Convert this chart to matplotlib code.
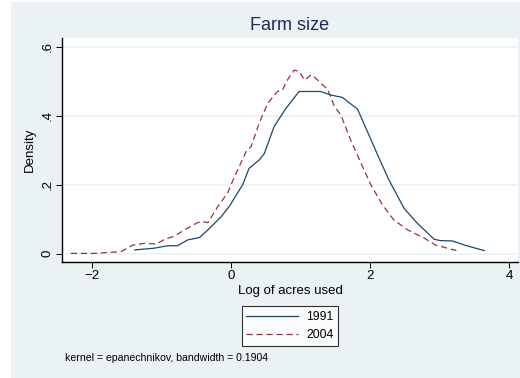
import matplotlib
matplotlib.use("Agg")
import matplotlib.pyplot as plt
from matplotlib.patches import Rectangle

plt.rcParams["font.family"] = ["Liberation Sans", "DejaVu Sans"]

# kernel density estimates
x_1991 = [-1.38, -1.10, -0.91, -0.77, -0.62, -0.45, -0.33, -0.14, -0.02, 0.17,
          0.26, 0.41, 0.48, 0.62, 0.79, 0.98, 1.29, 1.43, 1.60, 1.82,
          2.10, 2.27, 2.49, 2.68, 2.92, 3.01, 3.18, 3.39, 3.64]
d_1991 = [0.011, 0.016, 0.023, 0.023, 0.040, 0.047, 0.069, 0.107, 0.138, 0.200,
          0.247, 0.272, 0.290, 0.368, 0.421, 0.470, 0.470, 0.460, 0.453, 0.419,
          0.290, 0.214, 0.131, 0.088, 0.042, 0.038, 0.037, 0.023, 0.009]

x_2004 = [-2.30, -1.96, -1.58, -1.41, -1.24, -1.07, -0.95, -0.81, -0.65, -0.48,
          -0.41, -0.33, -0.19, -0.05, 0.05, 0.22, 0.29, 0.41, 0.53, 0.67,
          0.74, 0.81, 0.91, 0.98, 1.06, 1.15, 1.22, 1.32, 1.39, 1.49,
          1.58, 1.72, 1.87, 2.01, 2.18, 2.34, 2.54, 2.78, 2.94, 3.11, 3.24]
d_2004 = [0.001, 0.001, 0.006, 0.025, 0.030, 0.028, 0.042, 0.051, 0.071, 0.090,
          0.093, 0.090, 0.136, 0.175, 0.222, 0.296, 0.310, 0.380, 0.436, 0.470,
          0.474, 0.503, 0.532, 0.528, 0.503, 0.518, 0.508, 0.489, 0.476, 0.426,
          0.402, 0.330, 0.262, 0.200, 0.141, 0.098, 0.069, 0.045, 0.025, 0.016, 0.009]

xticks = [-2, 0, 2, 4]
yticks = [0, 0.2, 0.4, 0.6]
ytick_labels = ["0", ".2", ".4", ".6"]

W, H = 520, 378
bg = "#eaf2f3"
navy = "#1a476f"
red = "#90353b"

fig = plt.figure(figsize=(W / 100, H / 100), dpi=100, facecolor="white")
fig.patches.append(Rectangle((11 / W, 0), 1 - 11 / W, 1 - 2 / H,
                             transform=fig.transFigure, facecolor=bg,
                             edgecolor="none", zorder=-10))

ax = fig.add_axes([62 / W, 1 - 262 / H, (518 - 62) / W, (262 - 38) / H])
ax.set_facecolor("white")

l1, = ax.plot(x_1991, d_1991, color=navy, lw=0.9, label="1991")
l2, = ax.plot(x_2004, d_2004, color=red, lw=0.9, ls=(0, (5, 3)), label="2004")

ax.set_xlim(-2.426, 4.125)
ax.set_ylim(-0.024, 0.625)
ax.set_xticks(xticks)
ax.set_xticklabels([str(t).replace("-", "\u2212") for t in xticks], fontsize=9.5)
ax.set_yticks(yticks)
ax.set_yticklabels(ytick_labels, fontsize=9.5, rotation=90, va="center")
ax.tick_params(length=4, width=0.7, color="black", pad=2)
ax.grid(axis="y", color=bg, lw=1.2)
ax.set_axisbelow(True)
for s in ["top", "right"]:
    ax.spines[s].set_visible(False)
for s in ["left", "bottom"]:
    ax.spines[s].set_linewidth(1.0)

ax.set_xlabel("Log of acres used", fontsize=9.5, labelpad=2)
ax.set_ylabel("Density", fontsize=9.5, labelpad=4)

fig.text(290 / W, 1 - 25 / H, "Farm size", fontsize=13, color="#1e2d53",
         ha="center", va="center")

leg = fig.legend(handles=[l1, l2], loc="center",
                 bbox_to_anchor=(290 / W, 1 - 326 / H), fontsize=8.8,
                 frameon=True, fancybox=False, handlelength=4.2,
                 borderpad=0.4, labelspacing=0.5, handletextpad=0.7,
                 borderaxespad=0)
leg.get_frame().set_edgecolor("black")
leg.get_frame().set_linewidth(0.8)

fig.text(65 / W, 1 - 358 / H, "kernel = epanechnikov, bandwidth = 0.1904",
         fontsize=7.6, ha="left", va="center")

fig.savefig("out.png", dpi=100, facecolor=fig.get_facecolor())
